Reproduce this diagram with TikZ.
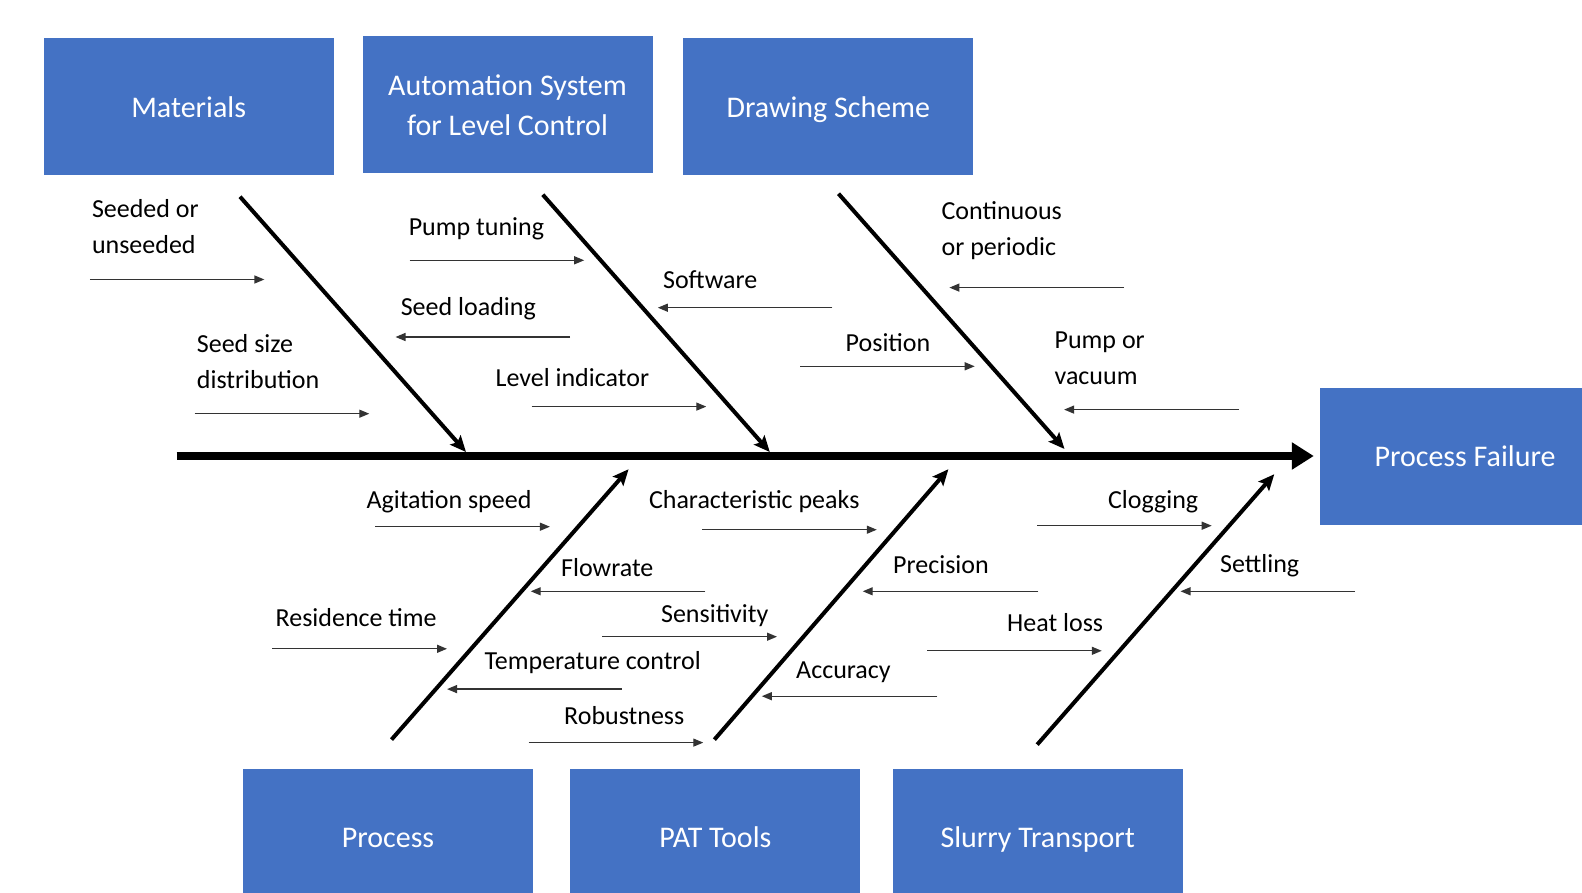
\documentclass[tikz,border=0pt]{standalone}
\usepackage{fontspec}
\setmainfont{Carlito}
\usetikzlibrary{arrows.meta}

\definecolor{boxblue}{HTML}{4472C4}

\tikzset{
  box/.style={fill=boxblue, text=white, minimum width=290pt, minimum height=137pt,
    text depth=0pt, align=center, font=\fontsize{30}{40}\selectfont},
  lbl/.style={anchor=west, inner sep=0pt, align=left, font=\fontsize{26}{36}\selectfont},
  spine/.style={line width=8pt, -{Triangle[length=22pt,width=26pt]}},
  bone/.style={line width=4pt, -{Stealth[length=16pt,width=14pt,inset=3pt]}},
  twig/.style={line width=1.3pt, black!80, -{Triangle[length=10pt,width=8pt]}}
}

\begin{document}
\begin{tikzpicture}[x=1pt, y=-1pt]
            \useasboundingbox (0,0) rectangle (1582,893);
            \clip (0,0) rectangle (1582,893);

            % category boxes
            \node[box] (materials) at (188.7,107) {Materials};
            \node[box] (automation) at (507.5,105) {Automation System\\for Level Control};
            \node[box] (drawing) at (828.4,107) {Drawing Scheme};
            \node[box] (process) at (388,837.5) {Process};
            \node[box] (pat) at (715.4,837.5) {PAT Tools};
            \node[box] (slurry) at (1037.7,837.5) {Slurry Transport};
            \node[box] (failure) at (1465,456) {Process Failure};

            % main spine
            \coordinate (tail) at (176.6,456);
            \draw[spine] (tail) -- ([xshift=-6pt]failure.west);

            % upper bones
            \coordinate (matA) at (240,196.7);    \coordinate (matB) at (466,452);
            \coordinate (autoA) at (542.8,194.7); \coordinate (autoB) at (769.8,452);
            \coordinate (drawA) at (838.5,193.7); \coordinate (drawB) at (1064.5,449);
            \draw[bone] (matA) -- (matB);
            \draw[bone] (autoA) -- (autoB);
            \draw[bone] (drawA) -- (drawB);

            % lower bones
            \coordinate (procA) at (391.5,739.6);   \coordinate (procB) at (628.6,469.2);
            \coordinate (patA) at (714.4,739.6);    \coordinate (patB) at (948.4,469.2);
            \coordinate (slurryA) at (1037.2,744.6); \coordinate (slurryB) at (1274.3,474.2);
            \draw[bone] (procA) -- (procB);
            \draw[bone] (patA) -- (patB);
            \draw[bone] (slurryA) -- (slurryB);

            % materials causes
            \node[lbl] (seeded) at (91.8,227) {Seeded or\\unseeded};
            \coordinate (seededA) at (89.8,279.5); \coordinate (seededB) at (264.4,279.5);
            \draw[twig] (seededA) -- (seededB);
            \node[lbl] (seedsize) at (196.7,362) {Seed size\\distribution};
            \coordinate (seedsizeA) at (194.7,413.7); \coordinate (seedsizeB) at (369.3,413.7);
            \draw[twig] (seedsizeA) -- (seedsizeB);

            % automation causes
            \node[lbl] (pumptuning) at (408.6,229) {Pump tuning};
            \coordinate (pumptuningA) at (409.6,260.3); \coordinate (pumptuningB) at (584.2,260.3);
            \draw[twig] (pumptuningA) -- (pumptuningB);
            \node[lbl] (seedloading) at (400.6,308.7) {Seed loading};
            \coordinate (seedloadingA) at (570,337); \coordinate (seedloadingB) at (395.5,337);
            \draw[twig] (seedloadingA) -- (seedloadingB);
            \node[lbl] (level) at (495.4,377.4) {Level indicator};
            \coordinate (levelA) at (531.7,406.6); \coordinate (levelB) at (706.3,406.6);
            \draw[twig] (levelA) -- (levelB);
            \node[lbl] (software) at (662.9,279.5) {Software};
            \coordinate (softwareA) at (832.4,307.7); \coordinate (softwareB) at (657.8,307.7);
            \draw[twig] (softwareA) -- (softwareB);

            % drawing scheme causes
            \node[lbl] (position) at (845.5,343) {Position};
            \coordinate (positionA) at (800.1,366.3); \coordinate (positionB) at (974.7,366.3);
            \draw[twig] (positionA) -- (positionB);
            \node[lbl] (continuous) at (941.4,231) {Continuous\\or periodic};
            \coordinate (continuousA) at (1124,287.6); \coordinate (continuousB) at (949.4,287.6);
            \draw[twig] (continuousA) -- (continuousB);
            \node[lbl] (pumpvac) at (1054.4,358) {Pump or\\vacuum};
            \coordinate (pumpvacA) at (1239,409.6); \coordinate (pumpvacB) at (1064.1,409.6);
            \draw[twig] (pumpvacA) -- (pumpvacB);

            % process causes
            \node[lbl] (agitation) at (366.3,501.5) {Agitation speed};
            \coordinate (agitationA) at (375.3,526.7); \coordinate (agitationB) at (549.9,526.7);
            \draw[twig] (agitationA) -- (agitationB);
            \node[lbl] (residence) at (275.5,617.5) {Residence time};
            \coordinate (residenceA) at (272.4,648.8); \coordinate (residenceB) at (447,648.8);
            \draw[twig] (residenceA) -- (residenceB);
            \node[lbl] (flowrate) at (561,568) {Flowrate};
            \coordinate (flowrateA) at (705.3,591.3); \coordinate (flowrateB) at (530.7,591.3);
            \draw[twig] (flowrateA) -- (flowrateB);
            \node[lbl] (temperature) at (484.3,663) {Temperature control};
            \coordinate (temperatureA) at (621.5,689.1); \coordinate (temperatureB) at (447,689.1);
            \draw[twig] (temperatureA) -- (temperatureB);

            % PAT tools causes
            \node[lbl] (peaks) at (648.8,501.5) {Characteristic peaks};
            \coordinate (peaksA) at (702.2,529.7); \coordinate (peaksB) at (876.8,529.7);
            \draw[twig] (peaksA) -- (peaksB);
            \node[lbl] (sensitivity) at (660.9,615.5) {Sensitivity};
            \coordinate (sensitivityA) at (602.3,636.7); \coordinate (sensitivityB) at (777,636.7);
            \draw[twig] (sensitivityA) -- (sensitivityB);
            \node[lbl] (robustness) at (564,715.4) {Robustness};
            \coordinate (robustnessA) at (528.7,742.6); \coordinate (robustnessB) at (703.3,742.6);
            \draw[twig] (robustnessA) -- (robustnessB);
            \node[lbl] (precision) at (893,565) {Precision};
            \coordinate (precisionA) at (1038.3,591.3); \coordinate (precisionB) at (862.7,591.3);
            \draw[twig] (precisionA) -- (precisionB);
            \node[lbl] (accuracy) at (796,672) {Accuracy};
            \coordinate (accuracyA) at (937.3,696.2); \coordinate (accuracyB) at (761.8,696.2);
            \draw[twig] (accuracyA) -- (accuracyB);

            % slurry transport causes
            \node[lbl] (clogging) at (1107.9,501.5) {Clogging};
            \coordinate (cloggingA) at (1037.3,525.7); \coordinate (cloggingB) at (1211.7,525.7);
            \draw[twig] (cloggingA) -- (cloggingB);
            \node[lbl] (heatloss) at (1007,622.5) {Heat loss};
            \coordinate (heatlossA) at (927.3,650.8); \coordinate (heatlossB) at (1101.8,650.8);
            \draw[twig] (heatlossA) -- (heatlossB);
            \node[lbl] (settling) at (1219.9,566) {Settling};
            \coordinate (settlingA) at (1355.1,591.3); \coordinate (settlingB) at (1180.5,591.3);
            \draw[twig] (settlingA) -- (settlingB);
        \end{tikzpicture}
\end{document}
